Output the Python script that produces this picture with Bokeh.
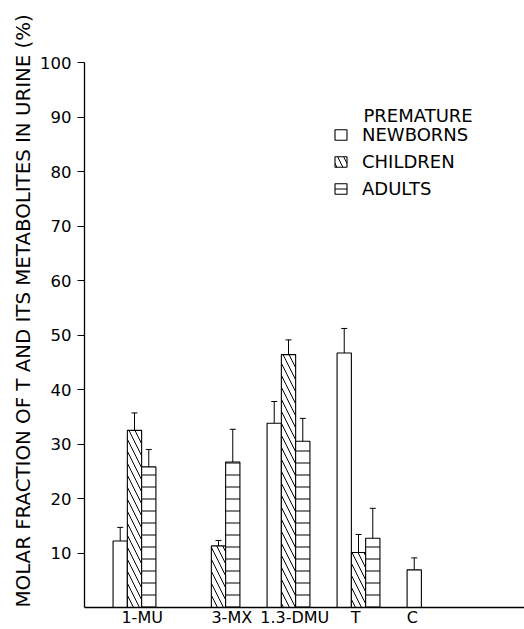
from bokeh.plotting import figure
from bokeh.models import (Range1d, FixedTicker, Whisker, ColumnDataSource, Legend,
                          LegendItem, Label, TeeHead, Title)
from bokeh.embed import file_html
from bokeh.resources import INLINE

# ---- data -------------------------------------------------------------
CATEGORIES = ["1-MU", "3-MX", "1.3-DMU", "T", "C"]
GROUP_POS = [0.0, 1.2, 2.2, 3.2, 4.2]
LABEL_POS = [0.11, 1.39, 2.29, 3.16, 3.97]

NEWBORNS = [12.2, None, 33.8, 46.7, 6.9]
NEWBORNS_ERR = [2.5, None, 4.0, 4.5, 2.2]
CHILDREN = [32.5, 11.3, 46.4, 10.1, None]
CHILDREN_ERR = [3.2, 1.0, 2.7, 3.3, None]
ADULTS = [25.8, 26.7, 30.5, 12.7, None]
ADULTS_ERR = [3.2, 6.0, 4.2, 5.5, None]

Y_TICKS = [10, 20, 30, 40, 50, 60, 70, 80, 90, 100]

BAR_W = 0.204
FONT = "DejaVu Sans"
INK = "black"

p = figure(width=524, height=629, output_backend="svg", toolbar_location=None,
           x_range=Range1d(-0.714, 5.571), y_range=Range1d(0, 100),
           min_border_left=84, min_border_right=0, min_border_top=62,
           min_border_bottom=21)
p.outline_line_color = None
p.xgrid.visible = False
p.ygrid.visible = False
p.background_fill_color = "white"
p.border_fill_color = "white"


def series(vals, errs, offset):
    xs, tops, up, lo = [], [], [], []
    for g, v, e in zip(GROUP_POS, vals, errs):
        if v is None:
            continue
        xs.append(g + offset)
        tops.append(v)
        up.append(v + e)
        lo.append(v - e)
    return ColumnDataSource(dict(x=xs, top=tops, upper=up, lower=lo))


specs = [
    ("NEWBORNS", NEWBORNS, NEWBORNS_ERR, -BAR_W, None),
    ("CHILDREN", CHILDREN, CHILDREN_ERR, 0.0, "left_diagonal_line"),
    ("ADULTS", ADULTS, ADULTS_ERR, BAR_W, "horizontal_line"),
]
items = []
for name, vals, errs, off, hatch in specs:
    src = series(vals, errs, off)
    kw = dict(x="x", top="top", bottom=0, width=BAR_W, source=src,
              fill_color="white", line_color=INK, line_width=1.1)
    if hatch:
        kw.update(hatch_pattern=hatch, hatch_color=INK, hatch_weight=1,
                  hatch_scale=12)
    r = p.vbar(**kw)
    items.append(LegendItem(label=name, renderers=[r]))
    w = Whisker(base="x", upper="upper", lower="lower", source=src,
                dimension="height", line_color=INK, line_width=1,
                upper_head=TeeHead(size=6, line_color=INK, line_width=1),
                lower_head=TeeHead(size=6, line_color=INK, line_width=1))
    p.add_layout(w)

legend = Legend(items=items, location=(249, 408), padding=0, margin=0,
                border_line_color=None, background_fill_alpha=0,
                glyph_width=15, glyph_height=13, label_standoff=14,
                label_height=20, spacing=6,
                label_text_font=FONT, label_text_font_size="18px",
                label_text_color=INK)
p.add_layout(legend, "center")

p.add_layout(Label(x=279, y=492, x_units="screen", y_units="screen",
                   text="PREMATURE", text_font=FONT, text_font_size="18px",
                   text_color=INK, text_baseline="alphabetic", text_align="left"))

ytitle = Title(text="MOLAR FRACTION OF T AND ITS METABOLITES IN URINE (%)",
               align="left", text_font=FONT, text_font_size="19.8px",
               text_font_style="normal", text_color=INK, standoff=5, offset=0)
p.add_layout(ytitle, "left")

# y axis
ya = p.yaxis[0]
ya.ticker = FixedTicker(ticks=Y_TICKS)
ya.major_tick_out = 7
ya.major_tick_in = 0
ya.minor_tick_out = 0
ya.minor_tick_in = 0
ya.major_label_standoff = 6
ya.major_label_text_font = FONT
ya.major_label_text_font_size = "16.5px"
ya.major_label_text_color = INK
ya.major_tick_line_color = INK
ya.axis_line_color = INK
ya.axis_line_width = 1.3

# x axis
xa = p.xaxis[0]
xa.ticker = FixedTicker(ticks=LABEL_POS)
xa.major_label_overrides = {pos: lab for pos, lab in zip(LABEL_POS, CATEGORIES)}
xa.major_tick_out = 0
xa.major_tick_in = 0
xa.minor_tick_out = 0
xa.minor_tick_in = 0
xa.major_label_standoff = 0
xa.major_label_text_font = FONT
xa.major_label_text_font_size = "16px"
xa.major_label_text_color = INK
xa.axis_line_color = INK
xa.axis_line_width = 1.3

open("out.html", "w").write(file_html(p, INLINE))
